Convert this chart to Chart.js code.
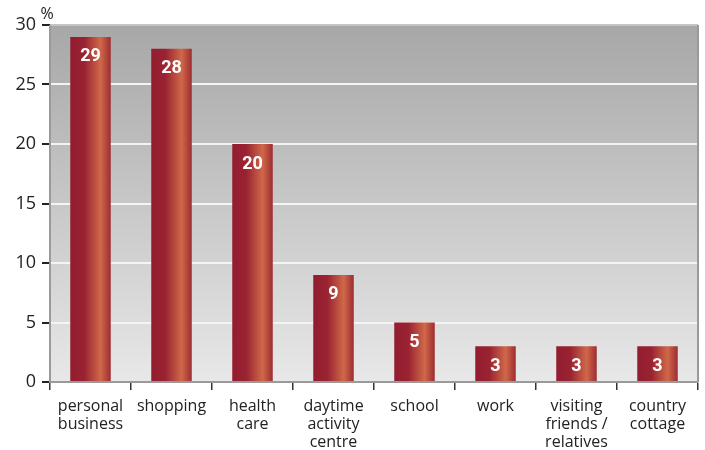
<!DOCTYPE html>
<html>
<head>
<meta charset="utf-8">
<script src="https://cdn.jsdelivr.net/npm/chart.js@4.4.1/dist/chart.umd.min.js"></script>
<style>
  html, body { margin: 0; padding: 0; background: #fff; }
  #wrap { width: 705px; height: 450px; }
</style>
</head>
<body>
<div id="wrap"><canvas id="grafico" width="705" height="450"></canvas></div>
<script>
// categorias (eje X)
const categorias = [
  ['personal', 'business'],
  'shopping',
  ['health', 'care'],
  ['daytime', 'activity', 'centre'],
  'school',
  'work',
  ['visiting', 'friends /', 'relatives'],
  ['country', 'cottage']
];

// valores en %
const valores = [29, 28, 20, 9, 5, 3, 3, 3];

// eje Y
const ticksY = [0, 5, 10, 15, 20, 25, 30];

const fuente = "'Open Sans', 'DejaVu Sans', sans-serif";
const anchoBarra = 0.5;

// degradado horizontal de cada barra
function colorBarra(ctx) {
  const chart = ctx.chart;
  const x = chart.scales.x;
  if (!x || x.width === undefined) return '#9a2330';
  const centro = x.getPixelForValue(ctx.dataIndex);
  const ancho = x.width / categorias.length * anchoBarra;
  const g = chart.ctx.createLinearGradient(centro - ancho / 2, 0, centro + ancho / 2, 0);
  g.addColorStop(0, '#921d2f');
  g.addColorStop(0.35, '#9a2332');
  g.addColorStop(0.75, '#cf6849');
  g.addColorStop(1, '#9e2c31');
  return g;
}

// fondo gris del area del grafico
const fondo = {
  id: 'fondo',
  beforeDraw(chart) {
    const { ctx, chartArea: a } = chart;
    const g = ctx.createLinearGradient(0, a.top, 0, a.bottom);
    g.addColorStop(0, '#a7a7a7');
    g.addColorStop(1, '#e8e8e8');
    ctx.save();
    ctx.fillStyle = g;
    ctx.fillRect(a.left, a.top, a.right - a.left, a.bottom - a.top);
    ctx.restore();
  },
  afterDraw(chart) {
    const { ctx, chartArea: a } = chart;
    ctx.save();
    // bordes
    ctx.strokeStyle = '#c4c4c4';
    ctx.lineWidth = 2;
    ctx.beginPath();
    ctx.moveTo(a.left, a.top);
    ctx.lineTo(a.right, a.top);
    ctx.stroke();
    ctx.strokeStyle = '#9a9a9a';
    ctx.lineWidth = 2;
    ctx.beginPath();
    ctx.moveTo(a.left, a.top);
    ctx.lineTo(a.left, a.bottom);
    ctx.moveTo(a.right, a.top);
    ctx.lineTo(a.right, a.bottom);
    ctx.stroke();
    // simbolo %
    ctx.fillStyle = '#222';
    ctx.font = '16px ' + fuente;
    ctx.textAlign = 'center';
    ctx.textBaseline = 'bottom';
    ctx.fillText('%', a.left - 3, a.top - 3);
    ctx.restore();
  }
};

// etiquetas de valor dentro de las barras
const etiquetas = {
  id: 'etiquetas',
  afterDatasetsDraw(chart) {
    const { ctx } = chart;
    const meta = chart.getDatasetMeta(0);
    ctx.save();
    ctx.fillStyle = '#ffffff';
    ctx.font = "bold 18px Roboto, 'DejaVu Sans', sans-serif";
    ctx.textAlign = 'center';
    ctx.textBaseline = 'middle';
    meta.data.forEach((barra, i) => {
      ctx.fillText(String(valores[i]), barra.x, barra.y + 20);
    });
    ctx.restore();
  }
};

const config = {
  type: 'bar',
  data: {
    labels: categorias,
    datasets: [{
      data: valores,
      backgroundColor: colorBarra,
      borderWidth: 0,
      barPercentage: anchoBarra,
      categoryPercentage: 1
    }]
  },
  options: {
    responsive: false,
    animation: false,
    layout: { padding: { top: 25, right: 7, left: 0, bottom: 0 } },
    plugins: { legend: { display: false }, tooltip: { enabled: false } },
    scales: {
      x: {
        afterFit(axis) { axis.height = 68; },
        grid: { drawOnChartArea: false, offset: true, tickLength: 8, tickColor: '#333', lineWidth: 1.5 },
        border: { display: true, color: '#9a9a9a', width: 2 },
        ticks: { color: '#222', font: { family: fuente, size: 16, lineHeight: 1.1 }, padding: 8, maxRotation: 0, autoSkip: false }
      },
      y: {
        min: 0,
        max: 30,
        afterFit(axis) { axis.width = 50; },
        afterBuildTicks(axis) { axis.ticks = ticksY.map(v => ({ value: v })); },
        grid: { color: '#f4f4f4', lineWidth: 2, tickLength: 8, tickColor: '#222' },
        border: { display: false },
        ticks: { color: '#222', font: { family: fuente, size: 18 }, padding: 6 }
      }
    }
  },
  plugins: [fondo, etiquetas]
};

const miGrafico = new Chart(document.getElementById('grafico'), config);
</script>
</body>
</html>
